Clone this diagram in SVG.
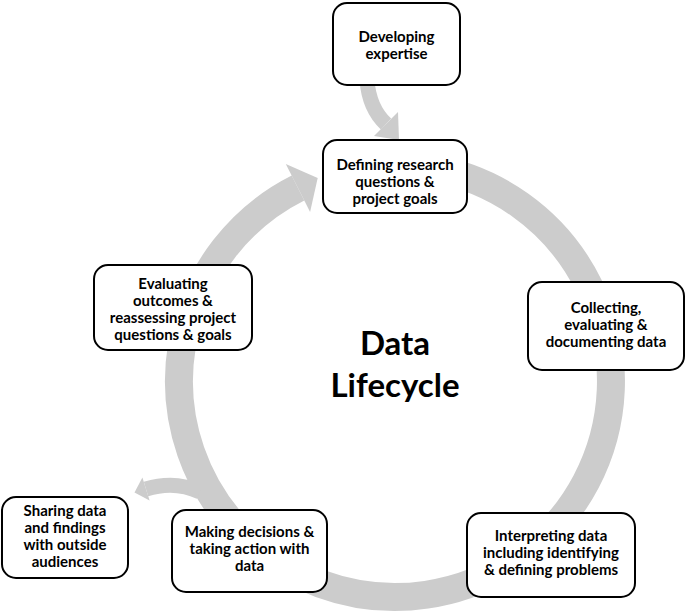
<svg xmlns="http://www.w3.org/2000/svg" width="685" height="613" viewBox="0 0 685 613">
<style>
.box{fill:#fff;stroke:#000;stroke-width:2}
.t{font-family:Lato,"Liberation Sans",sans-serif;font-weight:bold;font-size:15px;fill:#000;text-anchor:middle}
.big{font-size:33px}
.ring{fill:none;stroke:#cccccc}
.head{fill:#cccccc}
</style>
<rect width="685" height="613" fill="#fff"/>
<g id="connectors">
<path class="ring" stroke-width="28" d="M 432.5 168.3 A 216 216 0 1 1 298 188"/>
<polygon class="head" points="285.8,163.9 310.1,212.1 317.7,178.1"/>
<path class="ring" stroke-width="15" d="M 367 80 Q 369 108 386 124"/>
<polygon class="head" points="374,136 398,112 399,140"/>
<path class="ring" stroke-width="15" d="M 200 492 Q 175 480 146 489"/>
<polygon class="head" points="142.4,477.5 149.6,500.5 134.5,492.6"/>
</g>
<g id="developing">
<rect class="box" x="333" y="3" width="127" height="82" rx="14"/>
<text class="t" x="396.5" y="42">Developing</text>
<text class="t" x="396.5" y="59">expertise</text>
</g>
<g id="defining">
<rect class="box" x="323" y="140" width="144" height="73" rx="14"/>
<text class="t" x="395" y="170">Defining research</text>
<text class="t" x="395" y="187">questions &amp;</text>
<text class="t" x="395" y="204">project goals</text>
</g>
<g id="collecting">
<rect class="box" x="528" y="282" width="156" height="88" rx="14"/>
<text class="t" x="606" y="313">Collecting,</text>
<text class="t" x="606" y="330">evaluating &amp;</text>
<text class="t" x="606" y="347">documenting data</text>
</g>
<g id="interpreting">
<rect class="box" x="467" y="513" width="168" height="84" rx="14"/>
<text class="t" x="551" y="541">Interpreting data</text>
<text class="t" x="551" y="558">including identifying</text>
<text class="t" x="551" y="575">&amp; defining problems</text>
</g>
<g id="making">
<rect class="box" x="172" y="510" width="155" height="82" rx="14"/>
<text class="t" x="249.5" y="537">Making decisions &amp;</text>
<text class="t" x="249.5" y="554">taking action with</text>
<text class="t" x="249.5" y="571">data</text>
</g>
<g id="sharing">
<rect class="box" x="2" y="497" width="126" height="81" rx="14"/>
<text class="t" x="65" y="516">Sharing data</text>
<text class="t" x="65" y="533">and findings</text>
<text class="t" x="65" y="550">with outside</text>
<text class="t" x="65" y="567">audiences</text>
</g>
<g id="evaluating">
<rect class="box" x="94" y="265" width="158" height="85" rx="14"/>
<text class="t" x="173" y="289">Evaluating</text>
<text class="t" x="173" y="306">outcomes &amp;</text>
<text class="t" x="173" y="323">reassessing project</text>
<text class="t" x="173" y="340">questions &amp; goals</text>
</g>
<g id="title">
<text class="t big" x="395" y="355">Data</text>
<text class="t big" x="395" y="397">Lifecycle</text>
</g>
</svg>
